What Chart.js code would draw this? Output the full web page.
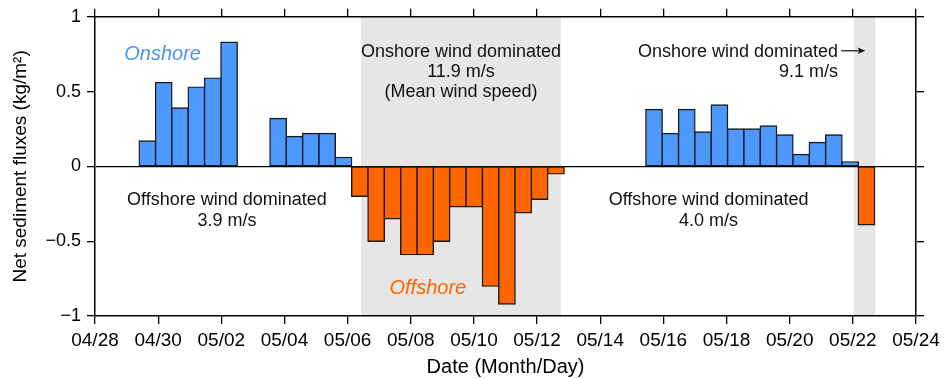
<!DOCTYPE html>
<html>
<head>
<meta charset="utf-8">
<script src="https://cdn.jsdelivr.net/npm/chart.js@4/dist/chart.umd.min.js"></script>
<style>
  html, body { margin: 0; padding: 0; background: #ffffff; }
  #wrap { width: 947px; height: 379px; position: relative; }
</style>
</head>
<body>
<div id="wrap"><canvas id="c"></canvas></div>
<script>
// ---- data (x = days since 04/28 00:00, y = kg/m^2) ----
const onshoreDays = [1.658, 2.176, 2.693, 3.211, 3.728, 4.246,
                     5.799, 6.316, 6.834, 7.352, 7.869,
                     17.704, 18.221, 18.739, 19.256, 19.774, 20.292, 20.809,
                     21.327, 21.844, 22.362, 22.879, 23.397, 23.915];
const onshoreFlux = [0.17, 0.56, 0.39, 0.53, 0.59, 0.83,
                     0.32, 0.20, 0.22, 0.22, 0.06,
                     0.38, 0.22, 0.38, 0.23, 0.41, 0.25, 0.25,
                     0.27, 0.21, 0.08, 0.16, 0.21, 0.03];
const offshoreDays = [8.387, 8.904, 9.422, 9.940, 10.457, 10.975, 11.492,
                      12.010, 12.528, 13.045, 13.563, 14.080, 14.598, 24.432];
const offshoreFlux = [-0.20, -0.50, -0.35, -0.59, -0.59, -0.50, -0.27,
                      -0.27, -0.80, -0.92, -0.31, -0.22, -0.05, -0.39];
const onshorePeriodStart = [8.425, 24.03];
const onshorePeriodEnd   = [14.754, 24.71];
const tickLabels = ['04/28','04/30','05/02','05/04','05/06','05/08','05/10',
                    '05/12','05/14','05/16','05/18','05/20','05/22','05/24'];

const FONT = "'Liberation Sans', Arial, Helvetica, sans-serif";
const BLUE = '#4d99ff';
const ORANGE = '#ff6600';

const shadePlugin = {
  id: 'shade',
  beforeDraw(chart) {
    const {ctx, chartArea, scales} = chart;
    ctx.save();
    ctx.fillStyle = '#e6e6e6';
    for (let i = 0; i < onshorePeriodStart.length; i++) {
      const x0 = scales.x.getPixelForValue(onshorePeriodStart[i]);
      const x1 = scales.x.getPixelForValue(onshorePeriodEnd[i]);
      ctx.fillRect(x0, chartArea.top, x1 - x0, chartArea.bottom - chartArea.top);
    }
    ctx.restore();
  }
};

const notes = [
  {text: 'Onshore', x: 2.14, y: 0.751, italic: true, color: '#4a95f2', size: 20, align: 'center'},
  {text: 'Offshore', x: 10.54, y: -0.816, italic: true, color: ORANGE, size: 20, align: 'center'},
  {text: 'Onshore wind dominated', x: 11.59, y: 0.765, align: 'center'},
  {text: '11.9 m/s', x: 11.59, y: 0.633, align: 'center'},
  {text: '(Mean wind speed)', x: 11.59, y: 0.497, align: 'center'},
  {text: 'Onshore wind dominated', x: 23.53, y: 0.762, align: 'right'},
  {text: '9.1 m/s', x: 23.53, y: 0.633, align: 'right'},
  {text: 'Offshore wind dominated', x: 4.18, y: -0.228, align: 'center'},
  {text: '3.9 m/s', x: 4.18, y: -0.365, align: 'center'},
  {text: 'Offshore wind dominated', x: 19.43, y: -0.228, align: 'center'},
  {text: '4.0 m/s', x: 19.43, y: -0.365, align: 'center'}
];

const notePlugin = {
  id: 'notes',
  afterDatasetsDraw(chart) {
    const {ctx, scales} = chart;
    ctx.save();
    ctx.textBaseline = 'middle';
    for (const n of notes) {
      ctx.font = (n.italic ? 'italic ' : '') + (n.size || 18) + 'px ' + FONT;
      ctx.fillStyle = n.color || '#111111';
      ctx.textAlign = n.align;
      ctx.fillText(n.text, scales.x.getPixelForValue(n.x), scales.y.getPixelForValue(n.y));
    }
    // arrow pointing to the short onshore-wind period
    const ax0 = scales.x.getPixelForValue(23.63);
    const ax1 = scales.x.getPixelForValue(24.4);
    const ay = scales.y.getPixelForValue(0.773);
    ctx.strokeStyle = '#111111';
    ctx.lineWidth = 1.2;
    ctx.beginPath();
    ctx.moveTo(ax0, ay);
    ctx.lineTo(ax1 - 4, ay);
    ctx.stroke();
    ctx.fillStyle = '#111111';
    ctx.beginPath();
    ctx.moveTo(ax1, ay);
    ctx.lineTo(ax1 - 8, ay - 3.2);
    ctx.lineTo(ax1 - 6, ay);
    ctx.lineTo(ax1 - 8, ay + 3.2);
    ctx.closePath();
    ctx.fill();
    ctx.restore();
  }
};

const barStyle = {
  borderColor: '#1a1a1a',
  borderWidth: 1.4,
  inflateAmount: 0.7,
  borderSkipped: false,
  grouped: false,
  barPercentage: 1.0,
  categoryPercentage: 1.0
};

const tickFontX = {family: FONT, size: 19};
const tickFontY = {family: FONT, size: 18};

new Chart(document.getElementById('c'), {
  type: 'bar',
  data: {
    datasets: [
      Object.assign({
        label: 'Onshore',
        data: onshoreDays.map((d, i) => ({x: d, y: onshoreFlux[i]})),
        backgroundColor: BLUE
      }, barStyle),
      Object.assign({
        label: 'Offshore',
        data: offshoreDays.map((d, i) => ({x: d, y: offshoreFlux[i]})),
        backgroundColor: ORANGE
      }, barStyle)
    ]
  },
  options: {
    responsive: true,
    maintainAspectRatio: false,
    animation: false,
    devicePixelRatio: 1,
    layout: {padding: {left: 0, right: 23, top: 7, bottom: 0}},
    plugins: {legend: {display: false}, tooltip: {enabled: false}},
    scales: {
      x: {
        type: 'linear', position: 'bottom', min: 0, max: 26, offset: false,
        grid: {offset: false, drawOnChartArea: false, drawTicks: true, tickLength: 8, color: '#000', lineWidth: 1.3},
        border: {display: true, color: '#000', width: 1.5},
        ticks: {stepSize: 2, autoSkip: false, maxRotation: 0, padding: 5, color: '#000', font: tickFontX,
                callback: (v) => tickLabels[Math.round(v / 2)]},
        title: {display: true, text: 'Date (Month/Day)', color: '#000', font: {family: FONT, size: 20}, padding: {top: 0, bottom: 0}},
        afterFit: (s) => { s.height = 63; }
      },
      xTop: {
        type: 'linear', axis: 'x', position: 'top', min: 0, max: 26, offset: false,
        grid: {offset: false, drawOnChartArea: false, drawTicks: true, tickLength: 8, color: '#000', lineWidth: 1.3},
        border: {display: true, color: '#000', width: 1.5},
        ticks: {stepSize: 2, display: false}
      },
      y: {
        type: 'linear', position: 'left', min: -1, max: 1,
        grid: {
          drawOnChartArea: true, drawTicks: true, tickLength: 8, lineWidth: 1.3,
          color: (c) => (c.tick && c.tick.value === 0) ? '#000' : 'rgba(0,0,0,0)',
          tickColor: '#000'
        },
        border: {display: true, color: '#000', width: 1.5},
        ticks: {stepSize: 0.5, padding: 6, color: '#000', font: tickFontY,
                callback: (v) => v === 0 ? '0' : (v < 0 ? '\u2212' : '') + Math.abs(v)},
        title: {display: true, text: 'Net sediment fluxes (kg/m\u00B2)', color: '#000', font: {family: FONT, size: 19}, padding: {top: 9, bottom: 0}},
        afterFit: (s) => { s.width = 95; }
      },
      yRight: {
        type: 'linear', axis: 'y', position: 'right', min: -1, max: 1,
        grid: {drawOnChartArea: false, drawTicks: true, tickLength: 8, color: '#000', lineWidth: 1.3},
        border: {display: true, color: '#000', width: 1.5},
        ticks: {stepSize: 0.5, display: false}
      }
    }
  },
  plugins: [shadePlugin, notePlugin]
});
</script>
</body>
</html>
